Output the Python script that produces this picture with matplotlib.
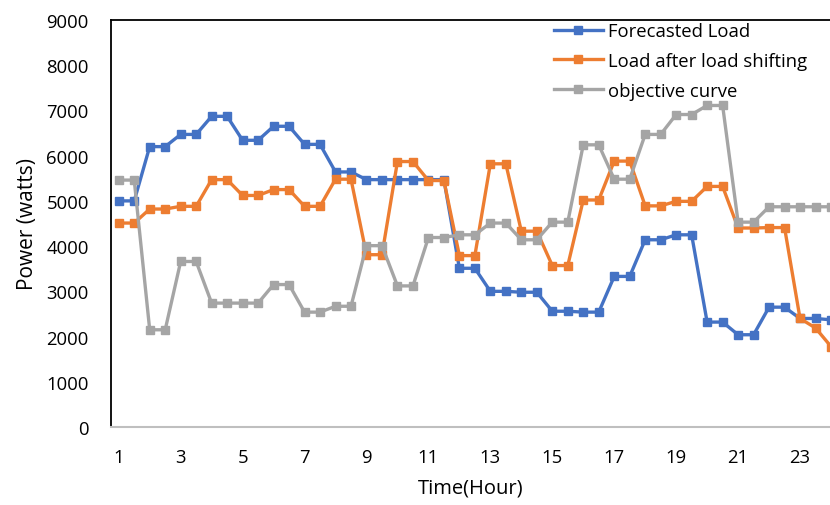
import matplotlib
matplotlib.use("Agg")
import matplotlib.pyplot as plt
import numpy as np

hours = [1 + 0.5 * i for i in range(47)]

forecasted = [5000, 5000, 6200, 6200, 6470, 6470, 6870, 6870, 6340, 6340,
              6650, 6650, 6250, 6250, 5640, 5640, 5470, 5470, 5470, 5470,
              5470, 5470, 3510, 3510, 3000, 3000, 2980, 2980, 2560, 2560,
              2540, 2540, 3330, 3330, 4140, 4140, 4250, 4250, 2320, 2320,
              2040, 2040, 2650, 2650, 2400, 2400, 2370]
shifted = [4510, 4510, 4820, 4820, 4880, 4880, 5470, 5470, 5120, 5120,
           5250, 5250, 4880, 4880, 5480, 5480, 3810, 3810, 5870, 5870,
           5450, 5450, 3790, 3790, 5820, 5820, 4330, 4330, 3570, 3570,
           5020, 5020, 5880, 5880, 4890, 4890, 4990, 4990, 5320, 5320,
           4400, 4400, 4410, 4410, 2400, 2190, 1780]
objective = [5460, 5460, 2150, 2150, 3660, 3660, 2740, 2740, 2740, 2740,
             3150, 3150, 2540, 2540, 2670, 2670, 4010, 4010, 3120, 3120,
             4190, 4190, 4250, 4250, 4510, 4510, 4140, 4140, 4530, 4530,
             6240, 6240, 5480, 5480, 6470, 6470, 6910, 6910, 7110, 7110,
             4530, 4530, 4870, 4870, 4870, 4870, 4870]

series_names = ["Forecasted Load", "Load after load shifting", "objective curve"]
colors = ["#4472C4", "#ED7D31", "#A5A5A5"]
xtick_labels = [str(h) for h in range(1, 24, 2)]
yticks = list(range(0, 9001, 1000))

plt.rcParams['font.family'] = ['Open Sans', 'DejaVu Sans']

fig = plt.figure(figsize=(8.30, 5.06), dpi=100)
ax = fig.add_axes([111/830, 1 - 428/506, 1 - 111/830, (428 - 21)/506])

for data, name, c in zip([forecasted, shifted, objective], series_names, colors):
    ax.plot(hours, data, color=c, lw=2.4, marker='s', markersize=6.2,
            label=name, solid_joinstyle='round')

ax.set_xlim(1 - 7.75/31, 1 + (830 - 118)/31)
ax.set_ylim(0, 9000)
ax.set_yticks(yticks)
ax.set_xticks(list(range(1, 24, 2)))
ax.set_xticklabels(xtick_labels)
ax.tick_params(axis='both', length=0, labelsize=13.3)
ax.tick_params(axis='y', pad=16)
ax.tick_params(axis='x', pad=15)

for s in ['left', 'top']:
    ax.spines[s].set_color('black')
    ax.spines[s].set_linewidth(1.3)
ax.spines['right'].set_visible(False)
ax.spines['bottom'].set_color('#BFBFBF')
ax.spines['bottom'].set_linewidth(1.5)

ax.set_ylabel("Power (watts)", fontsize=15)
ax.set_xlabel("Time(Hour)", fontsize=14.5)
ax.yaxis.set_label_coords(-0.102, 0.5)
ax.xaxis.set_label_coords(0.5, -0.125)

leg = ax.legend(loc='upper left', bbox_to_anchor=(554/830, 1 - 23/506),
                bbox_transform=fig.transFigure, frameon=False, fontsize=13.3,
                handlelength=2.65, handletextpad=0.3, borderpad=0,
                borderaxespad=0, labelspacing=0.64, numpoints=1)

fig.savefig("out.png", dpi=100)
